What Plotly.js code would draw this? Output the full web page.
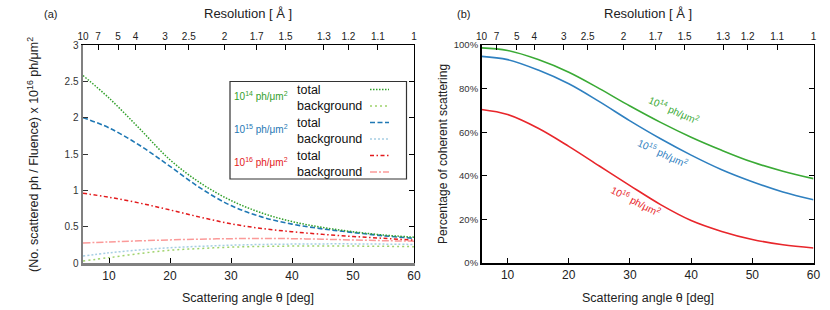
<!DOCTYPE html>
<html>
<head>
<meta charset="utf-8">
<script src="https://cdn.plot.ly/plotly-3.0.1.min.js"></script>
<style>html,body{margin:0;padding:0;background:#fff}#chart{width:830px;height:310px}</style>
</head>
<body>
<div id="chart"></div>
<script>
// ---------- data ----------
const angleA = [5.73, 10, 15, 20, 25, 30, 35, 40, 45, 50, 55, 60];
const total14 = [2.58, 2.27, 1.85, 1.42, 1.10, 0.86, 0.69, 0.57, 0.49, 0.43, 0.385, 0.355];
const bg14    = [0.028, 0.074, 0.13, 0.175, 0.20, 0.218, 0.228, 0.233, 0.235, 0.233, 0.23, 0.225];
const total15 = [2.00, 1.86, 1.62, 1.33, 1.03, 0.79, 0.635, 0.535, 0.47, 0.42, 0.375, 0.34];
const bg15    = [0.096, 0.14, 0.18, 0.21, 0.23, 0.245, 0.255, 0.26, 0.263, 0.263, 0.26, 0.255];
const total16 = [0.96, 0.905, 0.825, 0.73, 0.63, 0.54, 0.475, 0.43, 0.395, 0.365, 0.34, 0.315];
const bg16    = [0.275, 0.29, 0.305, 0.318, 0.328, 0.335, 0.338, 0.335, 0.327, 0.317, 0.307, 0.30];

const angleB = [5.73, 10, 15, 20, 25, 30, 35, 40, 45, 50, 55, 60];
const coh14 = [98.7, 97.5, 93.3, 87.5, 80.0, 72.0, 64.5, 57.7, 51.7, 46.3, 42.1, 38.7];
const coh15 = [94.8, 93.3, 88.5, 82.2, 74.0, 65.2, 57.0, 49.5, 42.8, 37.3, 32.6, 29.0];
const coh16 = [70.4, 68.1, 61.8, 53.5, 44.5, 35.5, 26.8, 19.5, 14.5, 10.8, 8.4, 6.9];

const resTicks = [10, 7, 5, 4, 3, 2.5, 2, 1.7, 1.5, 1.3, 1.2, 1.1, 1];
const yTicksA = [0, 0.5, 1, 1.5, 2, 2.5, 3];
const yTextA = ['0', '0.5', '1', '1.5', '2', '2.5', '3'];
const yTicksB = [0, 20, 40, 60, 80, 100];
const yTextB = ['0%', '20%', '40%', '60%', '80%', '100%'];
const xTicks = [10, 20, 30, 40, 50, 60];
const fluenceLabels = ['10<sup>14</sup> ph/μm<sup>2</sup>', '10<sup>15</sup> ph/μm<sup>2</sup>', '10<sup>16</sup> ph/μm<sup>2</sup>'];

// ---------- helpers ----------
const W = 830, H = 310;
const px = x => x / W;
const py = y => 1 - y / H;
const lambda = 1.0; // Å
const resToAngle = d => 2 * Math.asin(lambda / (2 * d)) * 180 / Math.PI;
const xRange = [resToAngle(10), 60];
const FONT = 'Liberation Sans, Arial, Helvetica, sans-serif';

const C = {
  g: '#33a02c', lg: '#9fd26b',
  b: '#1f78b4', lb: '#a6cee3',
  r: '#e31a1c', lr: '#fb9a99'
};

function line(x, y, color, dash, width, xa, ya) {
  return {x: x, y: y, type: 'scatter', mode: 'lines', xaxis: xa, yaxis: ya,
    line: {color: color, dash: dash, width: width, shape: 'spline', smoothing: 1.0},
    hoverinfo: 'skip', showlegend: false};
}
function axisHolder(xa, ya) {
  return {x: [], y: [], type: 'scatter', mode: 'lines', xaxis: xa, yaxis: ya, hoverinfo: 'skip', showlegend: false};
}

const dsh = {
  t14: '1.5px,1.5px', b14: '2px,3px',
  t15: '5px,2.5px', b15: '2px,2px',
  t16: '4px,2.5px,1.5px,2.5px', b16: '7px,2px,2px,2px'
};

const traces = [
  line(angleA, bg14, C.lg, dsh.b14, 1.5, 'x', 'y'),
  line(angleA, bg15, C.lb, dsh.b15, 1.5, 'x', 'y'),
  line(angleA, bg16, C.lr, dsh.b16, 1.5, 'x', 'y'),
  line(angleA, total16, C.r, dsh.t16, 1.5, 'x', 'y'),
  line(angleA, total15, C.b, dsh.t15, 1.6, 'x', 'y'),
  line(angleA, total14, C.g, dsh.t14, 1.5, 'x', 'y'),
  line(angleB, coh14, '#3aaa35', 'solid', 1.6, 'x3', 'y2'),
  line(angleB, coh15, '#2f80c0', 'solid', 1.6, 'x3', 'y2'),
  line(angleB, coh16, '#e8262b', 'solid', 1.6, 'x3', 'y2'),
  axisHolder('x2', 'y'),
  axisHolder('x', 'y3'),
  axisHolder('x4', 'y2')
];

const tickFont = {family: FONT, size: 10, color: '#333'};
const domA = [px(83), px(414)];
const domB = [px(481.5), px(813.5)];
const domY = [py(263), py(45)];

function botAxis(dom, anchor, lc, lw) {
  return {domain: dom, anchor: anchor, range: xRange, tickvals: xTicks, ticks: 'inside', ticklen: 5,
    tickcolor: '#000', showline: true, linecolor: lc, linewidth: lw, showgrid: false, zeroline: false,
    tickfont: {family: FONT, size: 12, color: '#222'}, fixedrange: true};
}
function topAxis(over, anchor) {
  return {overlaying: over, anchor: anchor, side: 'top', range: xRange,
    tickvals: resTicks.map(resToAngle), ticktext: resTicks.map(String), ticks: 'inside', ticklen: 5,
    tickcolor: '#000', showline: true, linecolor: '#000', linewidth: 1.3, showgrid: false, zeroline: false,
    tickfont: {family: FONT, size: 10, color: '#222'}, fixedrange: true};
}

const ann = [];
function txt(text, x, y, size, color, xanchor, angle, yanchor) {
  ann.push({text: text, x: px(x), y: py(y), xref: 'paper', yref: 'paper', showarrow: false,
    xanchor: xanchor || 'center', yanchor: yanchor || 'middle', textangle: angle || 0,
    font: {family: FONT, size: size, color: color || '#222'}});
}
txt('(a)', 50, 14, 11);
txt('(b)', 463, 14, 11);
txt('Resolution [ Å ]', 248, 13, 13);
txt('Resolution [ Å ]', 648, 13, 13);
txt('Scattering angle θ [deg]', 248, 298, 12.5);
txt('Scattering angle θ [deg]', 648, 298, 12.5);
txt('(No. scattered ph / Fluence) x 10<sup>16</sup> ph/μm<sup>2</sup>', 33, 155, 12.5, '#222', 'center', -90);
txt('Percentage of coherent scattering', 443, 154, 12, '#222', 'center', -90);

// legend (panel a)
const legRows = [89.5, 106, 122.5, 139, 155.5, 172];
const legColors = [C.g, C.b, C.r];
const legStyles = [[C.g, dsh.t14], [C.lg, dsh.b14], [C.b, dsh.t15], [C.lb, dsh.b15], [C.r, dsh.t16], [C.lr, dsh.b16]];
const shapes = [{type: 'rect', xref: 'paper', yref: 'paper', x0: px(230), x1: px(406.5), y0: py(81.5), y1: py(179),
  line: {color: '#333', width: 1.2}, fillcolor: 'rgba(255,255,255,0)'}];
for (let i = 0; i < 6; i++) {
  txt(i % 2 === 0 ? 'total' : 'background', 295, legRows[i], 12.5, '#111', 'left');
  shapes.push({type: 'line', xref: 'paper', yref: 'paper', x0: px(370), x1: px(389), y0: py(legRows[i]), y1: py(legRows[i]),
    line: {color: legStyles[i][0], dash: legStyles[i][1], width: 1.5}});
}
for (let k = 0; k < 3; k++) {
  txt(fluenceLabels[k], 290, legRows[2 * k] + 6, 10, legColors[k], 'right');
}
// curve labels (panel b)
txt(fluenceLabels[0], 674, 110, 10, '#3aaa35', 'center', 24);
txt(fluenceLabels[1], 663, 153, 10, '#2f80c0', 'center', 25);
txt(fluenceLabels[2], 636, 201, 10, '#e8262b', 'center', 27);

const layout = {
  width: W, height: H, margin: {l: 0, r: 0, t: 0, b: 0},
  paper_bgcolor: '#fff', plot_bgcolor: 'rgba(0,0,0,0)', showlegend: false,
  font: {family: FONT},
  xaxis: botAxis(domA, 'y', '#808080', 2.5),
  xaxis2: topAxis('x', 'y'),
  yaxis: {domain: domY, anchor: 'x', range: [0, 3], tickvals: yTicksA, ticktext: yTextA, ticks: 'inside', ticklen: 5,
    tickcolor: '#333', showline: true, linecolor: '#808080', linewidth: 2.5, showgrid: false, zeroline: false,
    tickfont: tickFont, fixedrange: true},
  yaxis3: {overlaying: 'y', anchor: 'x', side: 'right', range: [0, 3], tickvals: yTicksA, ticks: 'inside', ticklen: 5,
    tickcolor: '#000', showticklabels: false, showline: true, linecolor: '#000', linewidth: 1.3,
    showgrid: false, zeroline: false, fixedrange: true},
  xaxis3: botAxis(domB, 'y2', '#000', 1.5),
  xaxis4: topAxis('x3', 'y2'),
  yaxis2: {domain: domY, anchor: 'x3', range: [0, 100], tickvals: yTicksB, ticktext: yTextB, ticks: 'inside', ticklen: 5,
    tickcolor: '#000', showline: true, linecolor: '#000', linewidth: 1.5, mirror: 'ticks', showgrid: false, zeroline: false,
    tickfont: {family: FONT, size: 9.5, color: '#333'}, fixedrange: true},
  annotations: ann,
  shapes: shapes
};

Plotly.newPlot('chart', traces, layout, {staticPlot: true, displayModeBar: false});
</script>
</body>
</html>
